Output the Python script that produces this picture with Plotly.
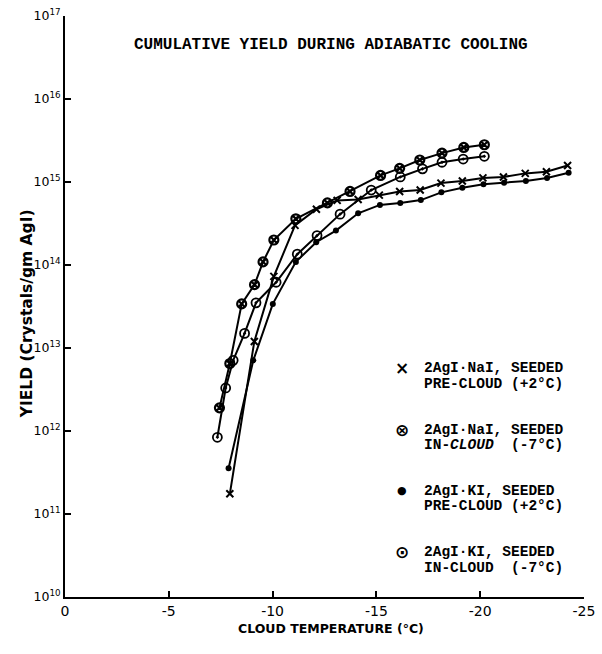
import plotly.graph_objects as go

# Cloud temperature (deg C) and cumulative yield (crystals per gram AgI)
nai_pre_t = [-7.94, -9.12, -10.06, -11.08, -12.11, -13.11, -14.12, -15.14, -16.12,
             -17.11, -18.11, -19.14, -20.13, -21.12, -22.17, -23.19, -24.21]
nai_pre_y = [1.75e11, 1.2e13, 7.3e13, 3.0e14, 4.7e14, 6.0e14, 6.15e14, 6.95e14, 7.7e14,
             8.0e14, 9.7e14, 1.03e15, 1.12e15, 1.15e15, 1.27e15, 1.33e15, 1.58e15]

nai_in_t = [-7.44, -7.94, -8.51, -9.13, -9.54, -10.06, -11.12, -12.64, -13.73,
            -15.20, -16.12, -17.09, -18.16, -19.21, -20.20]
nai_in_y = [1.9e12, 6.5e12, 3.4e13, 5.8e13, 1.09e14, 2.0e14, 3.6e14, 5.6e14, 7.7e14,
            1.2e15, 1.46e15, 1.84e15, 2.23e15, 2.61e15, 2.81e15]

ki_pre_t = [-7.88, -9.07, -10.01, -11.12, -12.10, -13.05, -14.12, -15.17, -16.15,
            -17.14, -18.13, -19.14, -20.16, -21.15, -22.20, -23.22, -24.26]
ki_pre_y = [3.56e11, 7.1e12, 3.4e13, 1.09e14, 1.88e14, 2.6e14, 4.2e14, 5.3e14, 5.6e14,
            6.05e14, 7.5e14, 8.55e14, 9.4e14, 9.8e14, 1.03e15, 1.12e15, 1.29e15]

ki_in_t = [-7.34, -7.74, -8.10, -8.65, -9.20, -10.17, -11.19, -12.14, -13.25,
           -14.75, -16.15, -17.22, -18.16, -19.18, -20.20]
ki_in_y = [8.4e11, 3.3e12, 7.1e12, 1.5e13, 3.5e13, 6.2e13, 1.35e14, 2.26e14, 4.1e14,
           8.0e14, 1.15e15, 1.44e15, 1.73e15, 1.89e15, 2.04e15]

x_ticks = [0, -5, -10, -15, -20, -25]
x_tick_text = ["0", "-5", "-10", "-15", "-20", "-25"]
y_exponents = [10, 11, 12, 13, 14, 15, 16, 17]

# key: glyph, first line, second line
key_glyphs = ["×", "⊗", "●", "⊙"]
key_line1 = ["2AgI·NaI, SEEDED", "2AgI·NaI, SEEDED",
             "2AgI·KI, SEEDED", "2AgI·KI, SEEDED"]
key_line2 = ["PRE-CLOUD (+2°C)", "IN-<i>CLOUD</i>  (-7°C)",
             "PRE-CLOUD (+2°C)", "IN-CLOUD  (-7°C)"]

MONO = "Liberation Mono"
SANS = "DejaVu Sans"

W, H = 602, 654
ML, MR, MT, MB = 65, 7, 13, 57
PW, PH = W - ML - MR, H - MT - MB


def px_x(px):
    return (px - ML) / PW


def px_y(py):
    return (H - MB - py) / PH


series = [
    (nai_pre_t, nai_pre_y, dict(symbol="x-thin-open", size=7, color="black",
                                line=dict(width=2, color="black"))),
    (nai_in_t, nai_in_y, dict(symbol="circle-x-open", size=9, color="black",
                              line=dict(width=2.2, color="black"))),
    (ki_pre_t, ki_pre_y, dict(symbol="circle", size=6, color="black",
                              line=dict(width=0))),
    (ki_in_t, ki_in_y, dict(symbol="circle-open-dot", size=9, color="black",
                            line=dict(width=1.8, color="black"))),
]

fig = go.Figure()

for (t, y, mk) in series:
    fig.add_trace(go.Scatter(
        x=t, y=y, mode="lines+markers",
        line=dict(color="black", width=2),
        marker=mk, showlegend=False, cliponaxis=False,
    ))

annotations = [
    dict(text="<b>CUMULATIVE YIELD DURING ADIABATIC COOLING</b>",
         xref="paper", yref="paper", x=px_x(337), y=px_y(42),
         xanchor="center", yanchor="middle", showarrow=False,
         font=dict(family=MONO, size=16, color="black")),
    dict(text="<b>CLOUD TEMPERATURE (°C)</b>",
         xref="paper", yref="paper", x=px_x(337), y=px_y(629),
         xanchor="center", yanchor="middle", showarrow=False,
         font=dict(family=SANS, size=12.5, color="black")),
    dict(text="<b>YIELD (Crystals/gm AgI)</b>",
         xref="paper", yref="paper", x=px_x(27), y=px_y(312),
         xanchor="center", yanchor="middle", showarrow=False, textangle=-90,
         font=dict(family=SANS, size=15.5, color="black")),
]

key_top = 367
key_step = 61.7
glyph_sizes = [17, 17, 11, 17]
for i, (g, l1, l2) in enumerate(zip(key_glyphs, key_line1, key_line2)):
    y1 = key_top + i * key_step
    annotations.append(dict(
        text=f"<b>{g}</b>", xref="paper", yref="paper",
        x=px_x(409), y=px_y(y1), xanchor="center", yanchor="middle",
        showarrow=False, font=dict(family=SANS, size=glyph_sizes[i], color="black")))
    annotations.append(dict(
        text=f"<b>{l1}</b>", xref="paper", yref="paper",
        x=px_x(430), y=px_y(y1), xanchor="left", yanchor="middle",
        showarrow=False, font=dict(family=MONO, size=14.5, color="black")))
    annotations.append(dict(
        text=f"<b>{l2}</b>", xref="paper", yref="paper",
        x=px_x(430), y=px_y(y1 + 15.5), xanchor="left", yanchor="middle",
        showarrow=False, font=dict(family=MONO, size=14.5, color="black")))

fig.update_layout(
    width=W, height=H,
    margin=dict(l=ML, r=MR, t=MT, b=MB),
    paper_bgcolor="white", plot_bgcolor="white",
    showlegend=False,
    annotations=annotations,
)

fig.update_xaxes(
    range=[0, -25], tickvals=x_ticks, ticktext=x_tick_text,
    showgrid=False, zeroline=False,
    showline=True, linecolor="black", linewidth=2.2,
    ticks="inside", ticklen=6, tickwidth=1.5, tickcolor="black",
    ticklabeloverflow="allow",
    tickfont=dict(family=SANS, size=14, color="black"),
)

fig.update_yaxes(
    type="log", range=[10, 17],
    tickvals=[10 ** e for e in y_exponents],
    ticktext=[f"10<sup>{e}</sup>" for e in y_exponents],
    showgrid=False, zeroline=False,
    showline=True, linecolor="black", linewidth=1.8,
    ticks="inside", ticklen=6, tickwidth=1.5, tickcolor="black",
    tickfont=dict(family=SANS, size=12.5, color="black"),
)

fig.write_html("out.html")
